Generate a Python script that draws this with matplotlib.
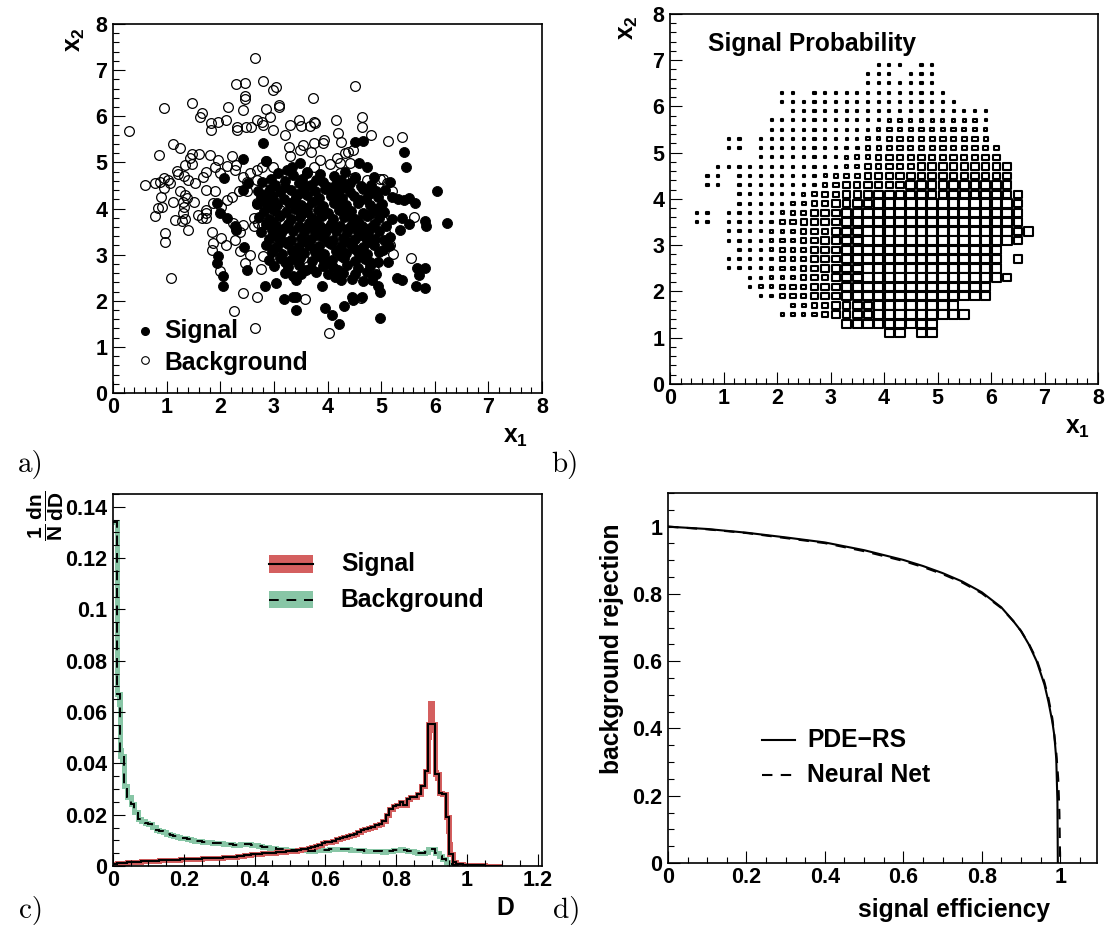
import numpy as np
import matplotlib

matplotlib.use("Agg")

import matplotlib.pyplot as plt
from matplotlib.patches import Rectangle
from matplotlib.collections import PatchCollection
from matplotlib.ticker import MultipleLocator, FuncFormatter

plt.rcParams["font.family"] = ["Liberation Sans", "DejaVu Sans"]
plt.rcParams["font.weight"] = "bold"
plt.rcParams["mathtext.fontset"] = "custom"
plt.rcParams["mathtext.rm"] = "Liberation Sans:bold"
plt.rcParams["mathtext.it"] = "Liberation Sans:bold"
plt.rcParams["mathtext.bf"] = "Liberation Sans:bold"

RED = "#d45f5f"
GREEN = "#88c6a6"
TICK_FS = 15.5
LABEL_FS = 17.7

# ---- a) scatter of the two classes (x1, x2) ----
SIGNAL_XY = [
    (6.05, 4.38), (6.23, 3.68), (5.42, 5.22), (5.47, 4.91), (4.51, 5.45), (4.67, 5.47), (4.73, 4.91),
    (4.58, 4.98), (5.16, 4.57), (5.32, 4.21), (5.42, 4.19), (5.51, 4.22), (5.07, 4.40), (5.20, 4.26),
    (4.87, 4.69), (4.81, 4.51), (5.63, 4.12), (5.39, 3.79), (5.51, 3.67), (5.36, 3.54), (5.81, 3.72),
    (5.84, 3.62), (5.21, 3.77), (5.16, 3.39), (5.03, 3.10), (5.14, 3.18), (4.95, 2.85), (5.12, 2.85),
    (5.29, 2.49), (5.39, 2.44), (5.67, 2.71), (5.82, 2.71), (5.70, 2.56), (5.65, 2.32), (5.82, 2.27),
    (4.97, 1.62), (4.95, 2.31), (4.97, 2.20), (4.83, 2.45), (4.64, 2.09), (4.48, 2.02), (4.45, 2.09),
    (4.30, 1.88), (4.09, 1.70), (4.22, 1.49), (3.95, 1.84), (3.89, 2.33), (3.42, 1.80), (3.36, 2.08),
    (3.42, 2.08), (3.19, 2.04), (3.03, 2.38), (2.83, 2.31), (2.49, 2.67), (2.05, 2.53), (2.05, 2.31),
    (1.96, 2.96), (1.93, 2.82), (2.30, 3.54), (2.27, 3.61), (2.45, 3.16), (2.12, 3.79), (1.99, 3.90),
    (1.93, 4.12), (2.07, 4.66), (2.43, 4.40), (2.52, 4.55), (2.80, 5.42), (2.86, 5.02), (2.43, 5.07),
    (3.49, 4.98), (3.33, 4.91), (3.24, 4.84), (3.61, 4.77),
    (3.07, 4.78), (3.36, 4.72), (3.62, 4.80), (3.86, 4.74), (4.12, 4.70), (4.33, 4.79),
    (2.77, 4.57), (3.02, 4.52), (3.21, 4.60), (3.47, 4.55), (3.69, 4.50), (3.92, 4.58), (4.16, 4.53),
    (4.41, 4.56), (4.62, 4.49),
    (2.71, 4.38), (2.92, 4.43), (3.12, 4.36), (3.31, 4.41), (3.56, 4.44), (3.77, 4.37), (3.96, 4.42),
    (4.21, 4.39), (4.42, 4.35), (4.66, 4.42), (4.90, 4.37),
    (2.76, 4.24), (2.97, 4.28), (3.19, 4.21), (3.41, 4.26), (3.62, 4.29), (3.84, 4.22), (4.06, 4.27),
    (4.27, 4.23), (4.49, 4.28), (4.71, 4.21), (4.94, 4.26),
    (2.69, 4.09), (2.86, 4.13), (3.06, 4.07), (3.29, 4.12), (3.51, 4.08), (3.71, 4.14), (3.91, 4.06),
    (4.12, 4.11), (4.34, 4.08), (4.56, 4.13), (4.79, 4.07), (5.01, 4.10),
    (2.81, 3.94), (3.01, 3.97), (3.22, 3.92), (3.39, 3.98), (3.61, 3.93), (3.82, 3.96), (4.01, 3.91),
    (4.22, 3.97), (4.44, 3.94), (4.66, 3.91), (4.86, 3.97), (5.06, 3.93),
    (2.72, 3.81), (2.91, 3.78), (3.11, 3.83), (3.31, 3.77), (3.49, 3.82), (3.71, 3.79), (3.89, 3.84),
    (4.11, 3.78), (4.31, 3.82), (4.52, 3.77), (4.74, 3.83), (4.96, 3.79),
    (2.86, 3.66), (3.04, 3.62), (3.26, 3.67), (3.46, 3.63), (3.66, 3.68), (3.86, 3.61), (4.06, 3.66),
    (4.24, 3.63), (4.46, 3.67), (4.64, 3.62), (4.86, 3.66), (5.09, 3.63),
    (2.76, 3.49), (2.96, 3.53), (3.14, 3.47), (3.36, 3.52), (3.56, 3.48), (3.74, 3.53), (3.96, 3.47),
    (4.16, 3.52), (4.36, 3.49), (4.54, 3.53), (4.76, 3.47), (4.96, 3.51),
    (2.91, 3.34), (3.09, 3.37), (3.31, 3.32), (3.51, 3.36), (3.69, 3.33), (3.91, 3.38), (4.11, 3.32),
    (4.29, 3.36), (4.51, 3.33), (4.71, 3.37), (4.89, 3.34), (5.06, 3.31),
    (2.86, 3.21), (3.06, 3.18), (3.26, 3.22), (3.44, 3.17), (3.66, 3.21), (3.84, 3.19), (4.06, 3.23),
    (4.26, 3.18), (4.44, 3.22), (4.66, 3.17), (4.86, 3.21),
    (2.96, 3.06), (3.16, 3.02), (3.34, 3.07), (3.56, 3.03), (3.76, 3.06), (3.94, 3.02), (4.16, 3.07),
    (4.34, 3.03), (4.56, 3.06), (4.74, 3.02), (4.96, 3.05),
    (2.91, 2.89), (3.11, 2.92), (3.31, 2.88), (3.49, 2.93), (3.71, 2.87), (3.91, 2.91), (4.09, 2.88),
    (4.31, 2.92), (4.51, 2.87), (4.69, 2.91),
    (3.01, 2.76), (3.26, 2.73), (3.46, 2.77), (3.69, 2.72), (3.91, 2.76), (4.11, 2.73), (4.36, 2.77),
    (4.56, 2.72), (4.79, 2.76),
    (3.21, 2.61), (3.51, 2.58), (3.79, 2.62), (4.01, 2.57), (4.29, 2.61), (4.51, 2.59), (4.74, 2.63),
    (3.41, 2.46), (4.26, 2.44), (4.46, 2.47), (4.66, 2.43),
    (3.20, 4.47), (3.60, 4.48), (4.00, 4.46), (4.30, 4.47), (3.00, 4.17), (3.40, 4.18), (3.80, 4.19),
    (4.20, 4.17), (4.60, 4.19), (3.10, 3.87), (3.50, 3.88), (3.90, 3.89), (4.40, 3.87), (4.80, 3.88),
    (3.20, 3.57), (3.60, 3.58), (4.00, 3.57), (4.40, 3.58), (4.80, 3.57), (3.20, 3.27), (3.60, 3.28),
    (4.00, 3.27), (4.40, 3.28), (4.75, 3.27), (3.45, 2.97), (3.85, 2.98), (4.25, 2.97), (4.60, 2.98),
    (3.60, 2.67), (4.20, 2.67),
    (2.95, 4.63), (3.52, 4.65), (3.78, 4.62), (4.25, 4.62), (4.52, 4.66), (2.85, 4.32), (3.48, 4.33),
    (4.10, 4.33), (4.78, 4.32), (2.94, 4.01), (3.62, 4.02), (4.32, 4.00), (4.95, 4.01), (2.98, 3.71),
    (3.78, 3.73), (4.56, 3.72), (3.02, 3.42), (3.82, 3.43), (4.62, 3.42), (2.98, 3.13), (3.74, 3.12),
    (4.52, 3.13), (3.20, 2.83), (4.00, 2.82), (4.80, 2.84), (3.35, 2.53), (4.13, 2.52), (4.90, 2.58),
]

BACKGROUND_XY = [
    (0.30, 5.69), (2.65, 7.27), (2.30, 6.70), (2.46, 6.71), (2.79, 6.77), (2.99, 6.57), (3.03, 6.63),
    (4.52, 6.65), (3.72, 6.39), (2.47, 6.44), (2.47, 6.37), (1.47, 6.28), (0.95, 6.17), (2.15, 6.19),
    (2.86, 6.16), (3.09, 6.25), (3.10, 6.19), (2.43, 6.14), (1.65, 6.06), (1.62, 5.98), (1.82, 5.85),
    (1.82, 5.70), (1.96, 5.88), (2.10, 5.92), (2.68, 5.92), (2.77, 5.88), (2.93, 5.99), (2.80, 5.81),
    (2.99, 5.70), (3.30, 5.81), (3.46, 5.91), (3.50, 5.78), (3.67, 5.78), (3.74, 5.88), (3.77, 5.85),
    (4.16, 5.92), (4.65, 5.98), (4.65, 5.76), (4.81, 5.59), (4.20, 5.63), (4.25, 5.45), (5.12, 5.47),
    (5.39, 5.55), (1.11, 5.40), (1.25, 5.31), (0.86, 5.15), (0.95, 4.66), (0.95, 4.44), (1.48, 5.18),
    (1.44, 5.09), (1.35, 4.94), (1.47, 4.97), (1.61, 5.18), (1.53, 4.55), (1.40, 4.61), (1.33, 4.71),
    (1.81, 5.15), (1.96, 5.05), (2.12, 4.92), (1.99, 4.77), (1.90, 4.91), (1.74, 4.80), (2.29, 4.95),
    (2.21, 5.13), (2.43, 4.69), (2.34, 4.37), (2.49, 4.37), (2.49, 4.58), (2.27, 4.84), (2.55, 4.77),
    (2.68, 4.84), (2.99, 4.91), (2.77, 4.91), (2.86, 5.02), (3.30, 5.13), (3.49, 5.27), (3.69, 5.23),
    (3.86, 5.05), (3.94, 5.49), (3.92, 5.43), (3.74, 5.42), (3.55, 5.38), (3.28, 5.34), (3.21, 5.59),
    (3.74, 4.91), (4.17, 5.09), (4.33, 5.20), (4.39, 5.23), (4.48, 5.27), (4.23, 4.98), (4.42, 4.98),
    (4.05, 4.97), (4.48, 4.66), (4.51, 4.69), (4.97, 4.64), (5.20, 4.37), (0.87, 4.58), (0.78, 4.55),
    (1.03, 4.61), (1.07, 4.55), (0.60, 4.51), (0.90, 4.26), (1.11, 4.15), (0.92, 4.04), (0.84, 4.01),
    (0.78, 3.83), (1.25, 4.37), (1.34, 4.30), (1.37, 4.22), (1.31, 4.15), (1.32, 4.04), (1.51, 4.15),
    (1.15, 3.75), (1.28, 3.72), (1.34, 3.77), (1.39, 3.54), (1.30, 3.90), (1.59, 3.86), (1.73, 4.40),
    (1.74, 3.97), (1.73, 3.90), (1.74, 3.79), (1.65, 3.79), (1.87, 4.12), (2.02, 4.04), (2.12, 4.19),
    (2.21, 4.26), (1.90, 4.37), (1.84, 3.48), (1.87, 3.25), (1.84, 3.10), (2.02, 3.36), (2.10, 3.21),
    (2.24, 3.68), (2.29, 3.57), (2.37, 3.50), (2.43, 3.65), (2.27, 3.32), (2.37, 3.07), (2.62, 3.79),
    (2.63, 3.61), (2.70, 3.68), (2.77, 3.62), (2.68, 4.12), (2.86, 4.26), (2.96, 4.04), (3.11, 3.97),
    (3.05, 3.79), (2.96, 3.39), (3.21, 3.57), (3.33, 3.83), (3.39, 3.25), (3.47, 3.10), (3.55, 2.92),
    (3.05, 3.10), (2.80, 2.96), (2.76, 2.69), (2.68, 2.09), (2.46, 2.82), (2.55, 3.00), (1.09, 2.49),
    (0.97, 3.47), (0.97, 3.27), (1.99, 2.64), (2.43, 2.17), (2.25, 1.78), (2.65, 1.41), (3.58, 2.04),
    (4.02, 1.30), (4.42, 3.30), (4.45, 3.21), (4.63, 2.06), (4.86, 2.67), (5.01, 3.75), (5.08, 3.50),
    (5.17, 3.21), (5.22, 3.01), (5.55, 2.92), (5.62, 3.81), (5.03, 4.64), (5.11, 4.56), (4.73, 4.62),
    (1.20, 4.82), (1.21, 4.75), (2.68, 4.62), (2.90, 4.58), (3.07, 4.69), (2.31, 5.77), (2.32, 5.70),
    (2.48, 5.76), (2.58, 5.76), (1.68, 4.68), (4.23, 4.78),
]

# ---- b) signal probability, 0.2 x 0.2 bins, box size level per cell ----
# (row index j -> x2 bin centre 0.1 + 0.2 j, first column k, levels from k on; "." = empty)
BOX_ROWS = [
    (34, 19, "111.11"),
    (33, 18, "111.111"),
    (32, 18, "1111111"),
    (31, 10, "11. 1111111111111"),
    (30, 10, "11111111111111111"),
    (29, 11, "1111111111111111111"),
    (28, 9, "11111111111 222222222 1"),
    (27, 9, "1111111111 2 333333333 2"),
    (26, 5, "11. 1111111111 22 3 44444444 3"),
    (25, 5, "11. 11111111 22 33 44444444444"),
    (24, 8, "11111111 2 33 4 55555555555"),
    (23, 4, "111111111111 2 3 44 555 666666666"),
    (22, 3, "11. 11111111 2 3 44 5 6666666666666"),
    (21, 3, "11. 1111111 2 3 4 55 6 666 7777777777"),
    (20, 6, "111111 2345 66 77777777777777 6"),
    (19, 6, "11111 2345 66 77 8888888888888 6"),
    (18, 2, "11. 11111 2345 66 77 88888888888888 7"),
    (17, 2, "11. 1111 2345 5 66 77 88888888888888 7"),
    (16, 5, "1111 22 3 4 55 6 77 88888888888888 7 8"),
    (15, 5, "1111 2 33 4 5 66 77 88888888888888 7"),
    (14, 6, "111 2 33 4 5 66 77 8888888888888"),
    (13, 5, "1111 2 33 4 5 66 77 8888888888888 . 7"),
    (12, 5, "1111 2 33 4 5 66 77 8888888888888"),
    (11, 7, "11 22 3 4 55 6 77 8888888888888 7"),
    (10, 7, "1 22 3 44 5 66 77 888888888888"),
    (9, 8, "1 2 3 44 5 66 77 888888888888"),
    (8, 11, "33 4 5 66 77 88888888"),
    (7, 10, "222 3 5 66 77 888888888"),
    (6, 16, "778888888"),
    (5, 20, "88.88"),
]

# ---- c) discriminant D distributions, bins of 0.01 from 0 to 1.1 ----
D_SIGNAL = [
    0.0008, 0.0010, 0.0012, 0.0013, 0.0014, 0.0015, 0.0016, 0.0017, 0.0018, 0.0019,
    0.0020, 0.0021, 0.0021, 0.0022, 0.0023, 0.0023, 0.0024, 0.0025, 0.0025, 0.0026,
    0.0027, 0.0027, 0.0028, 0.0028, 0.0029, 0.0030, 0.0030, 0.0031, 0.0032, 0.0032,
    0.0033, 0.0034, 0.0035, 0.0036, 0.0037, 0.0038, 0.0040, 0.0041, 0.0043, 0.0045,
    0.0047, 0.0048, 0.0049, 0.0050, 0.0051, 0.0052, 0.0053, 0.0054, 0.0055, 0.0057,
    0.0058, 0.0060, 0.0062, 0.0065, 0.0068, 0.0072, 0.0075, 0.0079, 0.0083, 0.0088,
    0.0092, 0.0095, 0.0099, 0.0104, 0.0108, 0.0113, 0.0117, 0.0121, 0.0125, 0.0131,
    0.0140, 0.0143, 0.0147, 0.0152, 0.0158, 0.0162, 0.0175, 0.0200, 0.0222, 0.0235,
    0.0238, 0.0250, 0.0236, 0.0262, 0.0268, 0.0270, 0.0282, 0.0310, 0.0370, 0.0555,
    0.0555, 0.0360, 0.0285, 0.0280, 0.0190, 0.0045, 0.0015, 0.0008, 0.0006, 0.0005,
    0.0004, 0.0004, 0.0003, 0.0003, 0.0003, 0.0002, 0.0002, 0.0002, 0.0001, 0.0001,
]
D_BACKGROUND = [
    0.1340, 0.0670, 0.0430, 0.0310, 0.0270, 0.0240, 0.0210, 0.0185, 0.0175, 0.0168,
    0.0162, 0.0152, 0.0142, 0.0135, 0.0132, 0.0125, 0.0122, 0.0116, 0.0113, 0.0110,
    0.0108, 0.0104, 0.0102, 0.0099, 0.0097, 0.0095, 0.0093, 0.0092, 0.0091, 0.0089,
    0.0088, 0.0087, 0.0085, 0.0084, 0.0083, 0.0082, 0.0084, 0.0086, 0.0085, 0.0083,
    0.0080, 0.0078, 0.0076, 0.0074, 0.0072, 0.0070, 0.0068, 0.0066, 0.0065, 0.0064,
    0.0063, 0.0062, 0.0062, 0.0061, 0.0061, 0.0060, 0.0060, 0.0061, 0.0062, 0.0063,
    0.0064, 0.0065, 0.0066, 0.0067, 0.0067, 0.0066, 0.0065, 0.0064, 0.0063, 0.0062,
    0.0061, 0.0060, 0.0059, 0.0059, 0.0058, 0.0057, 0.0056, 0.0057, 0.0059, 0.0062,
    0.0064, 0.0065, 0.0063, 0.0060, 0.0058, 0.0055, 0.0051, 0.0049, 0.0055, 0.0066,
    0.0065, 0.0052, 0.0038, 0.0026, 0.0016, 0.0009, 0.0004, 0.0002, 0.0001, 0.0000,
    0.0000, 0.0000, 0.0000, 0.0000, 0.0000, 0.0000, 0.0000, 0.0000, 0.0000, 0.0000,
]
# bins where the shaded error band is visibly wider than the line
SIG_BAND_BINS = [89, 90, 91, 94, 95]
SIG_BAND_LO = [0.0490, 0.0520, 0.0330, 0.0126, 0.0035]
SIG_BAND_HI = [0.0645, 0.0645, 0.0375, 0.0240, 0.0094]
BKG_BAND_BINS = [1, 2]
BKG_BAND_LO = [0.0620, 0.0400]
BKG_BAND_HI = [0.0710, 0.0460]

# ---- d) ROC curves ----
PDE_EFF = [0, 0.1, 0.2, 0.3, 0.4, 0.5, 0.6, 0.65, 0.7, 0.75, 0.8, 0.85, 0.88, 0.9,
           0.92, 0.94, 0.96, 0.97, 0.98, 0.985, 0.99, 0.993, 0.994]
PDE_REJ = [1.0, 0.993, 0.982, 0.968, 0.953, 0.93, 0.901, 0.883, 0.862, 0.837, 0.805, 0.76, 0.72, 0.69,
           0.65, 0.60, 0.53, 0.48, 0.42, 0.38, 0.31, 0.18, 0.0]
NN_EFF = [0, 0.1, 0.2, 0.3, 0.4, 0.5, 0.6, 0.65, 0.7, 0.75, 0.8, 0.85, 0.88, 0.9,
          0.92, 0.94, 0.96, 0.97, 0.98, 0.99, 0.995, 0.998, 1.0]
NN_REJ = [1.0, 0.992, 0.981, 0.966, 0.951, 0.927, 0.898, 0.880, 0.859, 0.834, 0.802, 0.758, 0.72, 0.69,
          0.652, 0.605, 0.537, 0.49, 0.43, 0.33, 0.25, 0.15, 0.0]


def root_axis(ax, xlim, ylim, xmajor, xminor, ymajor, yminor):
    ax.set_xlim(*xlim)
    ax.set_ylim(*ylim)
    ax.xaxis.set_major_locator(MultipleLocator(xmajor))
    ax.xaxis.set_minor_locator(MultipleLocator(xminor))
    ax.yaxis.set_major_locator(MultipleLocator(ymajor))
    ax.yaxis.set_minor_locator(MultipleLocator(yminor))
    fmt = FuncFormatter(lambda v, p: f"{v:.6g}" if abs(v) > 1e-9 else "0")
    ax.xaxis.set_major_formatter(fmt)
    ax.yaxis.set_major_formatter(fmt)
    ax.tick_params(which="both", direction="in", top=False, right=False, width=0.8,
                   labelsize=TICK_FS)
    ax.tick_params(which="major", length=8.5)
    ax.tick_params(which="minor", length=4.3)
    ax.tick_params(axis="x", pad=3)
    ax.tick_params(axis="y", pad=4)
    for lab in ax.get_xticklabels() + ax.get_yticklabels():
        lab.set_fontweight("bold")
    for spine in ax.spines.values():
        spine.set_linewidth(1.2)


fig = plt.figure(figsize=(11.06, 9.30), dpi=100)

# ---------- a) ----------
ax1 = fig.add_axes([0.1022, 0.5774, 0.3879, 0.3968])
root_axis(ax1, (0, 8), (0, 8), 1, 0.2, 1, 0.2)
sig = np.array(SIGNAL_XY)
bkg = np.array(BACKGROUND_XY)
ax1.plot(sig[:, 0], sig[:, 1], "o", ms=7.2, color="black", mec="black", mew=0.6, ls="none")
ax1.plot(bkg[:, 0], bkg[:, 1], "o", ms=7.0, mfc="none", mec="black", mew=0.9, ls="none")
ax1.plot([0.075], [0.168], "o", ms=5.5, color="black", transform=ax1.transAxes, clip_on=False)
ax1.plot([0.075], [0.089], "o", ms=5.5, mfc="none", mec="black", mew=0.8,
         transform=ax1.transAxes, clip_on=False)
ax1.text(0.119, 0.168, "Signal", transform=ax1.transAxes, fontsize=LABEL_FS,
         fontweight="bold", va="center")
ax1.text(0.119, 0.081, "Background", transform=ax1.transAxes, fontsize=LABEL_FS,
         fontweight="bold", va="center")

# ---------- b) ----------
ax2 = fig.add_axes([0.6058, 0.5871, 0.3870, 0.3979])
root_axis(ax2, (0, 8), (0, 8), 1, 0.2, 1, 0.2)
boxes = []
for j, k0, levels in BOX_ROWS:
    cells = levels.replace(" ", "")
    cy = 0.1 + 0.2 * j
    for i, ch in enumerate(cells):
        if ch == ".":
            continue
        cx = 0.1 + 0.2 * (k0 + i)
        half = 0.1 * (0.1 + 0.1 * int(ch))
        boxes.append(Rectangle((cx - half, cy - half), 2 * half, 2 * half))
ax2.add_collection(PatchCollection(boxes, facecolor="white", edgecolor="black", linewidth=1.5))
ax2.text(0.089, 0.92, "Signal Probability", transform=ax2.transAxes, fontsize=LABEL_FS,
         fontweight="bold", va="center")

# ---------- c) ----------
ax3 = fig.add_axes([0.1022, 0.0688, 0.3879, 0.4000])
root_axis(ax3, (0, 1.212), (0, 0.145), 0.2, 0.05, 0.02, 0.005)
edges = np.linspace(0, 1.1, len(D_SIGNAL) + 1)
ax3.stairs(D_BACKGROUND, edges, color=GREEN, lw=3.6, baseline=None)
ax3.stairs(D_SIGNAL, edges, color=RED, lw=3.6, baseline=None)
ax3.bar(edges[SIG_BAND_BINS], np.subtract(SIG_BAND_HI, SIG_BAND_LO), bottom=SIG_BAND_LO,
        width=0.01, align="edge", color=RED, lw=0)
ax3.bar(edges[BKG_BAND_BINS], np.subtract(BKG_BAND_HI, BKG_BAND_LO), bottom=BKG_BAND_LO,
        width=0.01, align="edge", color=GREEN, lw=0)
ax3.stairs(D_BACKGROUND, edges, color="black", lw=1.4, ls=(0, (5, 4)), baseline=None)
ax3.stairs(D_SIGNAL, edges, color="black", lw=1.5, baseline=None)

ax3.add_patch(Rectangle((0.364, 0.788), 0.102, 0.048, transform=ax3.transAxes, color=RED, lw=0))
ax3.plot([0.364, 0.466], [0.812, 0.812], color="black", lw=1.5, transform=ax3.transAxes)
ax3.add_patch(Rectangle((0.364, 0.694), 0.102, 0.045, transform=ax3.transAxes, color=GREEN, lw=0))
ax3.plot([0.364, 0.466], [0.716, 0.716], color="black", lw=1.4, ls=(0, (5, 4)),
         transform=ax3.transAxes)
ax3.text(0.531, 0.812, "Signal", transform=ax3.transAxes, fontsize=LABEL_FS,
         fontweight="bold", va="center")
ax3.text(0.531, 0.716, "Background", transform=ax3.transAxes, fontsize=LABEL_FS,
         fontweight="bold", va="center")

# ---------- d) ----------
ax4 = fig.add_axes([0.6040, 0.0720, 0.3879, 0.3979])
root_axis(ax4, (0, 1.094), (0, 1.1), 0.2, 0.05, 0.2, 0.05)
ax4.plot(NN_EFF, NN_REJ, color="black", lw=1.5, ls=(0, (5, 4)))
ax4.plot(PDE_EFF, PDE_REJ, color="black", lw=1.5)
ax4.plot([0.219, 0.296], [0.332, 0.332], color="black", lw=1.5, transform=ax4.transAxes)
ax4.plot([0.219, 0.296], [0.238, 0.238], color="black", lw=1.5, ls=(0, (5, 4)),
         transform=ax4.transAxes)
ax4.text(0.324, 0.332, "PDE\u2212RS", transform=ax4.transAxes, fontsize=LABEL_FS,
         fontweight="bold", va="center")
ax4.text(0.324, 0.238, "Neural Net", transform=ax4.transAxes, fontsize=LABEL_FS,
         fontweight="bold", va="center")

# ---------- axis titles and panel tags ----------
fig.text(0.4656, 0.530, r"$x_{1}$", fontsize=LABEL_FS, ha="center", va="center")
fig.text(0.0678, 0.957, r"$x_{2}$", fontsize=LABEL_FS, ha="center", va="center", rotation=90)
fig.text(0.974, 0.540, r"$x_{1}$", fontsize=LABEL_FS, ha="center", va="center")
fig.text(0.568, 0.970, r"$x_{2}$", fontsize=LABEL_FS, ha="center", va="center", rotation=90)
fig.text(0.041, 0.445, r"$\dfrac{1}{N}\,\dfrac{dn}{dD}$", fontsize=15, ha="center",
         va="center", rotation=90)
fig.text(0.4566, 0.0237, "D", fontsize=LABEL_FS, fontweight="bold", ha="center", va="center")
fig.text(0.553, 0.302, "background rejection", fontsize=LABEL_FS, fontweight="bold",
         ha="center", va="center", rotation=90)
fig.text(0.8626, 0.0215, "signal efficiency", fontsize=LABEL_FS, fontweight="bold",
         ha="center", va="center")

for tag, x, y in [("a)", 0.028, 0.501), ("b)", 0.511, 0.501), ("c)", 0.028, 0.0215),
                  ("d)", 0.512, 0.0215)]:
    fig.text(x, y, tag, fontsize=21, family="cmr10", fontweight="normal", ha="center",
             va="center")

fig.savefig("out.png", dpi=100)
